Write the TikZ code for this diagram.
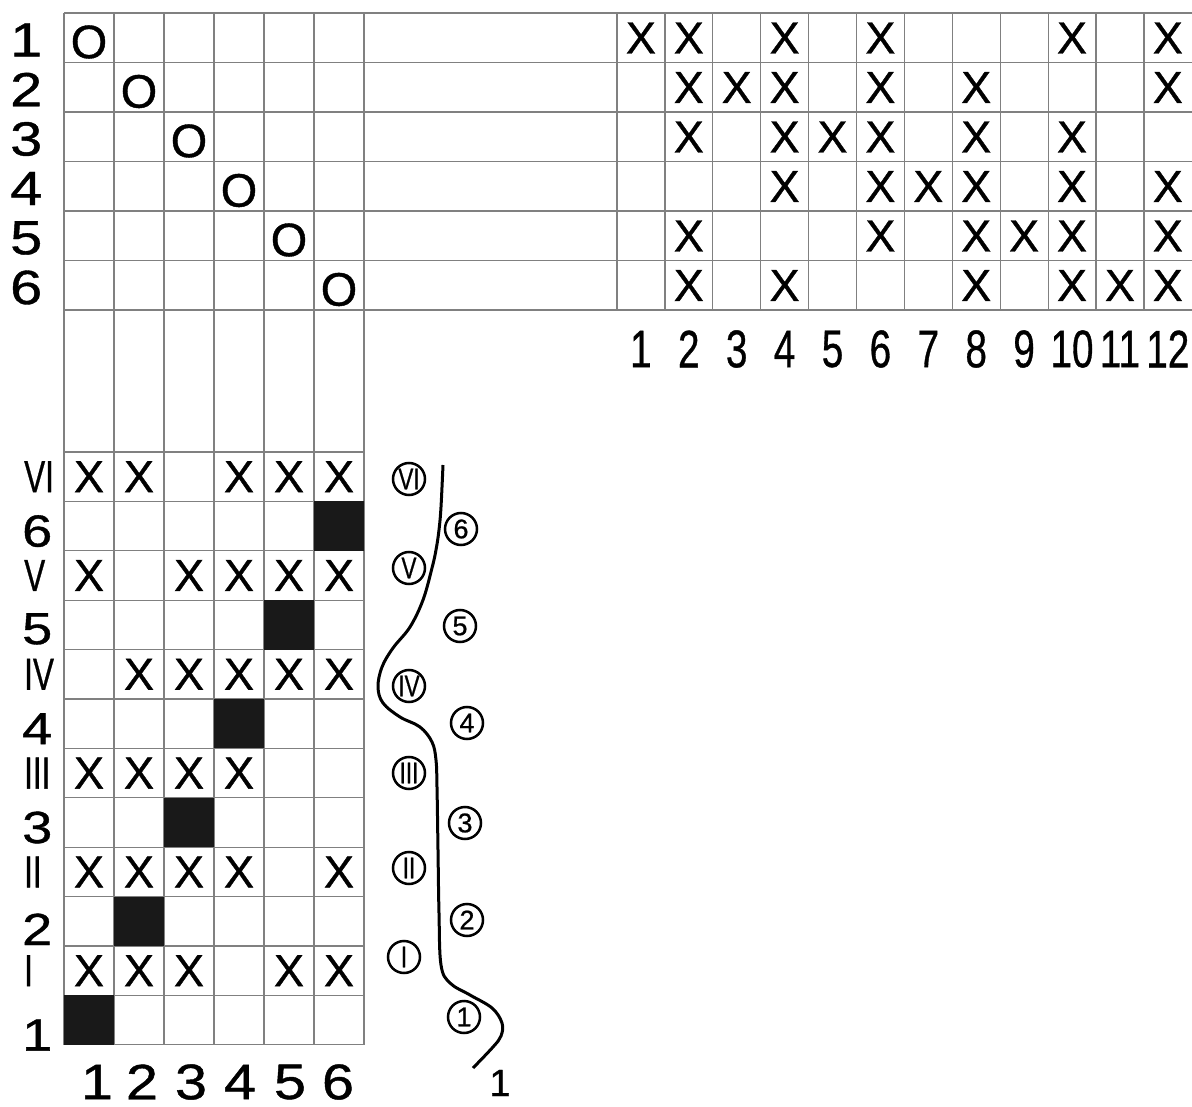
\documentclass[tikz,border=0pt]{standalone}
\usepackage{fontspec}
\setmainfont{Liberation Sans}
\newfontfamily\heavy[FakeBold=0.8]{Liberation Sans}
\usetikzlibrary{positioning}

\newcommand{\fs}[1]{\heavy\fontsize{#1}{#1}\selectfont}
\newcommand{\wider}[1]{\scalebox{1.2}[1]{#1}}
\newcommand{\slim}[1]{\scalebox{0.7}[1]{#1}}

\tikzset{
  gridline/.style={draw=black!50, line width=1.2pt},
  xmark/.style={font=\fs{45}, inner sep=0pt},
  omark/.style={font=\fs{47}, inner sep=0pt},
  rowlab/.style={font=\fs{48}, inner sep=0pt, anchor=west},
  sidelab/.style={font=\fs{45}, inner sep=0pt, anchor=west},
  collab/.style={font=\fs{53}, inner sep=0pt},
  baselab/.style={font=\fs{50}, inner sep=0pt},
  ring/.style={circle, draw, line width=2.5pt, minimum size=32pt, inner sep=0pt, font=\fs{27}},
  filled/.style={fill=black!90},
  curve/.style={line width=3pt},
}

\begin{document}
\begin{tikzpicture}[x=1pt, y=-1pt]
\useasboundingbox (0,0) rectangle (1192,1107);

% upper table
\foreach \r in {0,...,6}
  \draw[gridline] (64,{13+49.5*\r}) -- (1192,{13+49.5*\r});
\foreach \c in {0,...,6}
  \draw[gridline] ({64+50*\c},13) -- ({64+50*\c},1045);
\foreach \c in {0,...,11}
  \draw[gridline] ({617+47.9*\c},13) -- ({617+47.9*\c},310);

% lower table
\foreach \j in {0,...,12}
  \draw[gridline] (64,{452+49.4*\j}) -- (364,{452+49.4*\j});
\foreach \k in {1,...,6}
  \fill[filled] ({64+50*(6-\k)},{452+49.4*(2*\k-1)}) rectangle ++(50,49.4);

\foreach \r in {1,...,6}{
  \node[rowlab] (r\r) at (10,{40+49.5*(\r-1)}) {\wider{\r}};
  \node[omark] (o\r) at ({39+50*\r},{42+49.5*(\r-1)}) {O};
}

\foreach \r/\cols in {1/{1,2,4,6,10,12}, 2/{2,3,4,6,8,12}, 3/{2,4,5,6,8,10},
                      4/{4,6,7,8,10,12}, 5/{2,6,8,9,10,12}, 6/{2,4,8,10,11,12}}
  \foreach \c in \cols
    \node[xmark] (x\r-\c) at ({593+47.9*\c},{38+49.5*(\r-1)}) {X};

\foreach \c in {1,...,12}
  \node[collab] (c\c) at ({593+47.9*\c},349) {\scalebox{0.73}[1]{\c}};

% rows of the lower table
\foreach \j/\lab in {1/VI, 3/V, 5/IV, 7/III, 9/II, 11/I}
  \node[sidelab] (rom\j) at (24,{427.3+49.4*\j}) {\slim{\lab}};
\foreach \j/\lab/\dy in {2/6/5, 4/5/4, 6/4/5, 8/3/5, 10/2/8, 12/1/15}
  \node[sidelab] (num\lab) at (22,{427.3+49.4*\j+\dy}) {\wider{\lab}};

\foreach \j/\cols in {1/{1,2,4,5,6}, 3/{1,3,4,5,6}, 5/{2,3,4,5,6},
                      7/{1,2,3,4}, 9/{1,2,3,4,6}, 11/{1,2,3,5,6}}
  \foreach \c in \cols
    \node[xmark] (y\j-\c) at ({39+50*\c},{427.3+49.4*\j}) {X};

\foreach \c/\px in {1/97, 2/142, 3/191, 4/240, 5/290, 6/338}
  \node[baselab] (b\c) at (\px,1082) {\scalebox{1.15}[1]{\c}};

% circled marks beside the curve
\foreach \lab/\px/\py in {VI/409/479, V/409/568, IV/409/686, III/409/773, II/409/868, I/404/957}
  \node[ring, font=\fs{30}] (ring\lab) at (\px,\py) {\scalebox{0.75}[1]{\lab}};
\foreach \lab/\px/\py in {6/461/529, 5/460/626, 4/467/723, 3/465/823, 2/467/920, 1/464/1017}
  \node[ring] (ring\lab) at (\px,\py) {\lab};

\draw[curve] plot[smooth, tension=0.6] coordinates {(443,465) (441,507) (439,530) (436,550)
  (432,568) (423,600) (410,627) (393,648) (382,667) (378,687) (383,703) (400,717) (420,727)
  (432,742) (436,760) (437,787) (438,850) (439,913) (441,965) (450,983) (470,995) (492,1008)
  (502,1023) (501,1036) (493,1047) (473,1068)};
\node[font=\fs{38}, inner sep=0pt] (tail) at (500,1083) {1};
\end{tikzpicture}
\end{document}
